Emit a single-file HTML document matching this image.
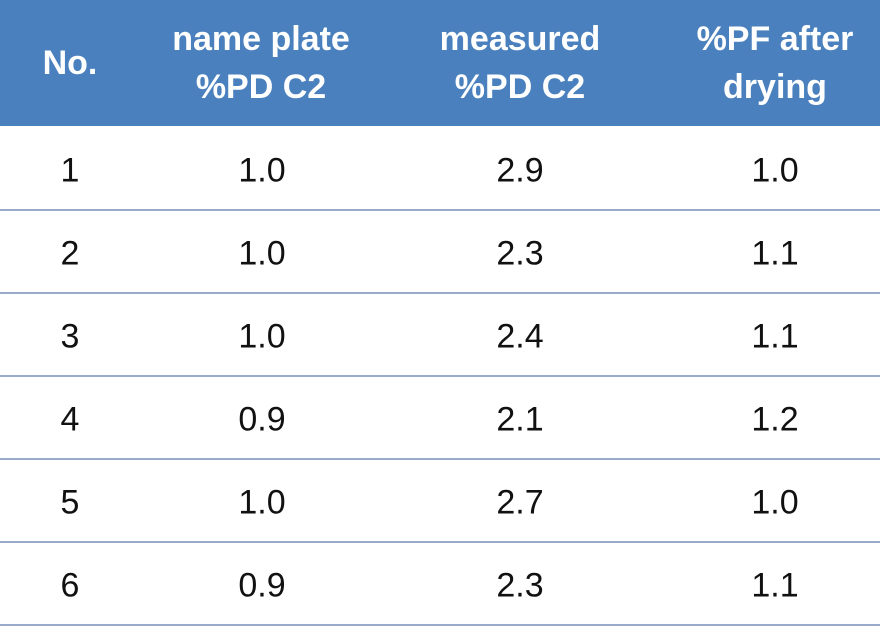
<!DOCTYPE html>
<html><head><meta charset="utf-8"><style>
body{margin:0;width:880px;height:628px;background:#fff;position:relative;overflow:hidden;font-family:"Liberation Sans",sans-serif}
.hdr{position:absolute;left:0;top:0;width:880px;height:126px;background:#4a80bd}
.h{position:absolute;top:0;height:126px;display:flex;align-items:center;justify-content:center;text-align:center;color:#fff;font-weight:bold;font-size:34px;line-height:48px;transform:translateX(-50%);width:270px}
.c{position:absolute;font-size:34px;color:#111;transform:translate(-50%,-50%);white-space:nowrap}
.ln{position:absolute;left:0;width:880px;height:2px;background:#98acca}
</style></head><body>
<div class="hdr"></div>
<div class="h" style="left:70px">No.</div>
<div class="h" style="left:261px">name plate<br>%PD C2</div>
<div class="h" style="left:520px">measured<br>%PD C2</div>
<div class="h" style="left:775px">%PF after<br>drying</div>
<div id="body"></div>
<script>
const nos=["1","2","3","4","5","6"];
const plate=["1.0","1.0","1.0","0.9","1.0","0.9"];
const measured=["2.9","2.3","2.4","2.1","2.7","2.3"];
const pf=["1.0","1.1","1.1","1.2","1.0","1.1"];
const cols=[70,262,520,775];
const names=["cell-no","cell-name-plate","cell-measured","cell-pf"];
const b=document.getElementById('body');
nos.forEach((n,i)=>{
  const vals=[n,plate[i],measured[i],pf[i]];
  const cy=126+83*i+45;
  vals.forEach((v,j)=>{
    const d=document.createElement('div');
    d.className='c';
    d.style.left=cols[j]+'px';d.style.top=cy+'px';
    d.textContent=v;
    
    
    b.appendChild(d);
  });
  const l=document.createElement('div');
  l.className='ln';l.style.top=(126+83*(i+1))+'px';
  
  
  b.appendChild(l);
});
</script>
</body></html>
